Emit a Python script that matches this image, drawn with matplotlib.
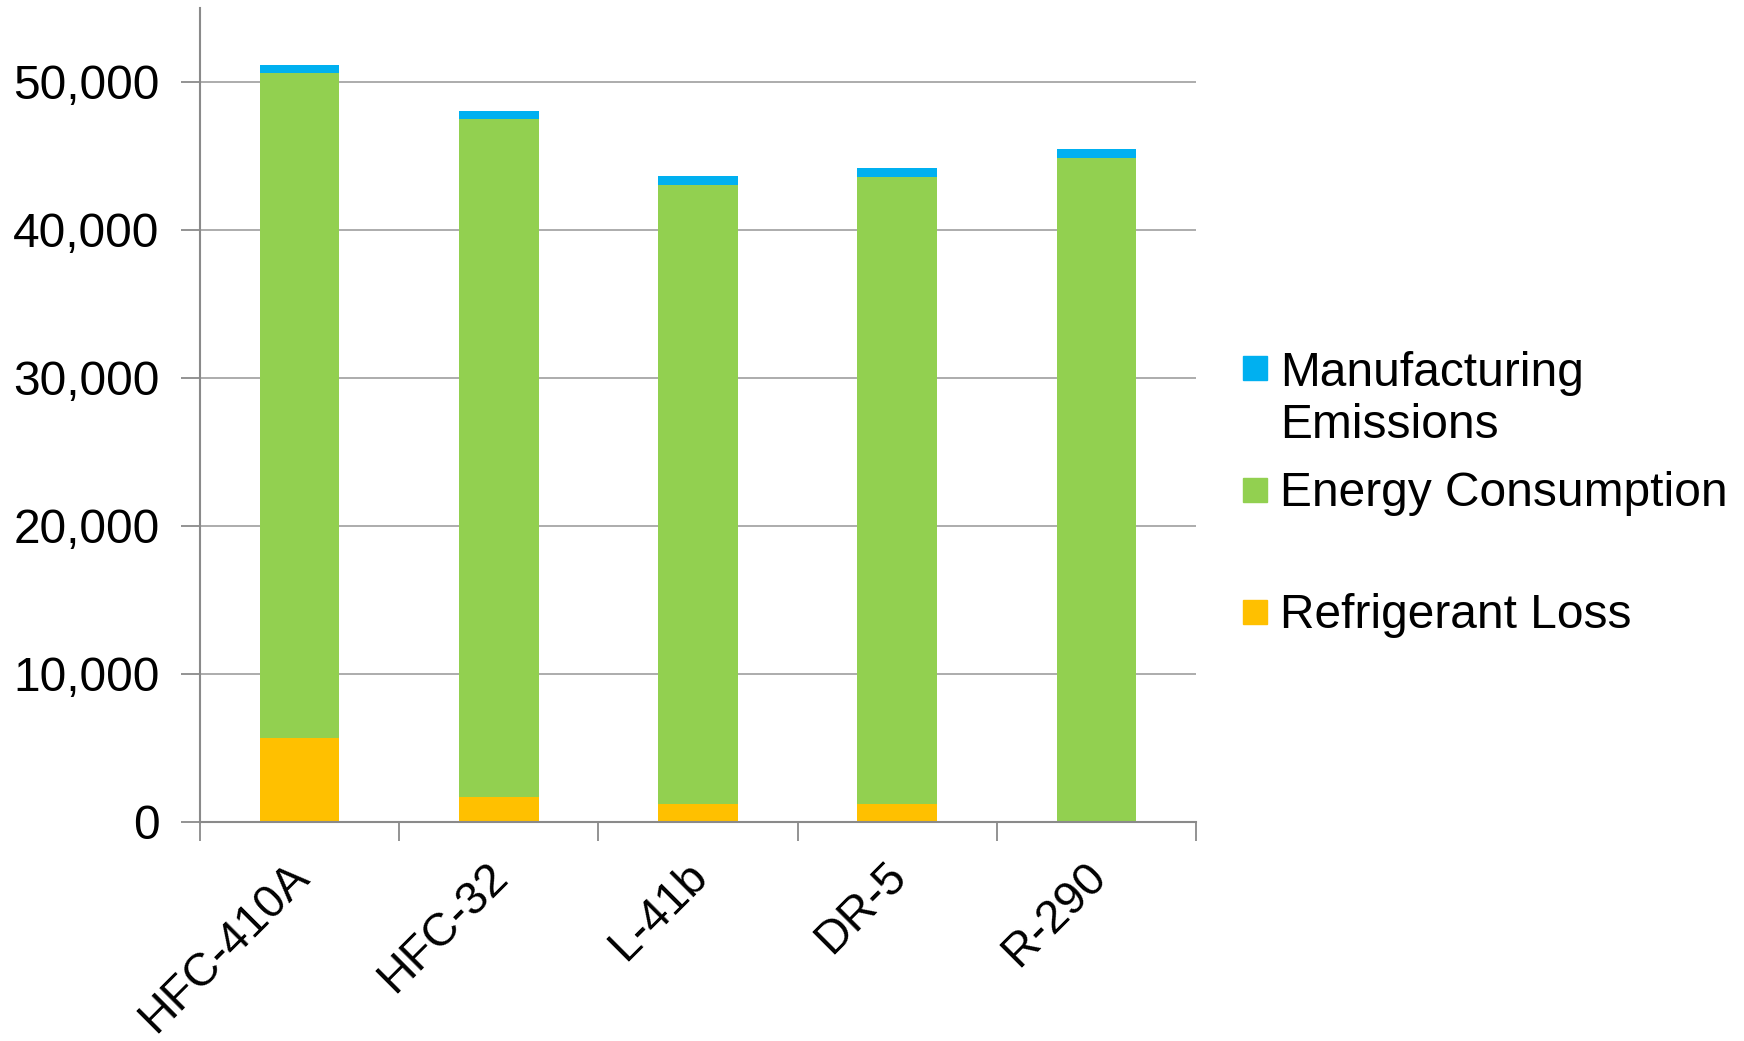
import matplotlib.pyplot as plt
from matplotlib.patches import Rectangle
from matplotlib.ticker import FuncFormatter
from matplotlib.transforms import ScaledTranslation
import numpy as np

plt.rcParams['font.family'] = ['Liberation Sans', 'DejaVu Sans']

# dane
refrigeranty = ['HFC-410A', 'HFC-32', 'L-41b', 'DR-5', 'R-290']
refrigerant_loss = [5680, 1650, 1200, 1200, 0]
energy_consumption = [44910, 45830, 41820, 42360, 44890]
manufacturing = [540, 590, 610, 610, 560]

serie = ['Manufacturing\nEmissions', 'Energy Consumption', 'Refrigerant Loss']
kolory = ['#00B0F0', '#92D050', '#FFC000']

fig = plt.figure(figsize=(17.44, 10.41), dpi=100)
ax = fig.add_axes([200 / 1744, 1 - 821.7 / 1041, 996 / 1744, (821.7 - 8) / 1041])

x = np.arange(len(refrigeranty))
dol2 = np.array(refrigerant_loss) + np.array(energy_consumption)
ax.bar(x, refrigerant_loss, width=0.4, color=kolory[2], zorder=2)
ax.bar(x, energy_consumption, width=0.4, bottom=refrigerant_loss, color=kolory[1], zorder=2)
ax.bar(x, manufacturing, width=0.4, bottom=dol2, color=kolory[0], zorder=2)

ax.set_xlim(-0.5, len(refrigeranty) - 0.5)
ax.set_ylim(0, 55000)
ax.set_yticks(range(0, 50001, 10000))
ax.yaxis.set_major_formatter(FuncFormatter(lambda v, p: f'{int(v):,}'))
ax.grid(axis='y', color='#a6a6a6', linewidth=1.3, zorder=0)

ax.set_xticks(x)
ax.set_xticklabels(refrigeranty, rotation=45, ha='right', va='top', rotation_mode='anchor')
ax.tick_params(axis='x', length=0, pad=14, labelsize=33.5)
ax.set_xticks(np.arange(-0.5, len(refrigeranty)), minor=True)
ax.tick_params(axis='x', which='minor', length=14, width=1.3, color='#8a8a8a')
ax.tick_params(axis='y', length=14, width=1.3, color='#8a8a8a', labelsize=34.5, pad=15)

przesun = ScaledTranslation(-13 / 100, -13 / 100, fig.dpi_scale_trans)
for lab in ax.get_xticklabels():
    lab.set_transform(lab.get_transform() + przesun)

for s in ['top', 'right']:
    ax.spines[s].set_visible(False)
for s in ['left', 'bottom']:
    ax.spines[s].set_color('#8a8a8a')
    ax.spines[s].set_linewidth(1.5)

# legenda
kwadrat_y = [368, 490, 612]
tekst_y = [399, 493, 615]
for nazwa, kolor, ky, ty in zip(serie, kolory, kwadrat_y, tekst_y):
    fig.add_artist(Rectangle((1243 / 1744, 1 - (ky + 12) / 1041), 24 / 1744, 24 / 1041,
                             color=kolor, transform=fig.transFigure))
    fig.text(1280 / 1744, 1 - ty / 1041, nazwa, fontsize=34.5, va='center',
             ha='left', linespacing=1.2)

plt.savefig('out.png', dpi=100)
